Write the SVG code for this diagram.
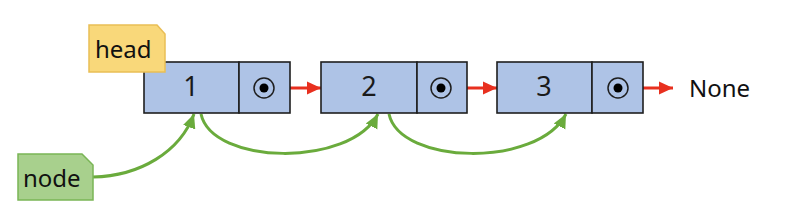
<svg xmlns="http://www.w3.org/2000/svg" width="792" height="217" viewBox="0 0 792 217">
<style>
.cell{fill:#aec3e6;stroke:#1e1e1e;stroke-width:1.6}
.ring{fill:none;stroke:#1e1e1e;stroke-width:1.5}
.dot{fill:#000}
.num{font-family:"Noto Sans",sans-serif;font-size:27px;fill:#1a1a1a;text-anchor:middle}
.lbl{font-family:"Noto Sans",sans-serif;font-size:24px;fill:#111}
.red{stroke:#e8301f;stroke-width:2.8;fill:none}
.green{stroke:#6aab3c;stroke-width:3;fill:none}
</style>
<defs>
<marker id="ar" markerUnits="userSpaceOnUse" markerWidth="16" markerHeight="16" viewBox="0 0 16 16" refX="14" refY="8" orient="auto">
<path d="M0,1.5 L14,8 L0,14.5 Z" fill="#e8301f"/>
</marker>
<marker id="ag" markerUnits="userSpaceOnUse" markerWidth="16" markerHeight="16" viewBox="0 0 16 16" refX="14" refY="8" orient="auto">
<path d="M0,1.5 L14,8 L0,14.5 Z" fill="#6aab3c"/>
</marker>
</defs>
<g id="connectors">
<line class="red" x1="264" y1="88" x2="321" y2="88" marker-end="url(#ar)"/>
<line class="red" x1="441" y1="88" x2="497" y2="88" marker-end="url(#ar)"/>
<line class="red" x1="618" y1="88" x2="673" y2="88" marker-end="url(#ar)"/>
<path class="green" d="M93,177 C140,176 180,152 194,114" marker-end="url(#ag)"/>
<path class="green" d="M201,114 C212,165 350,168 378,114" marker-end="url(#ag)"/>
<path class="green" d="M389,114 C400,165 538,168 566,114" marker-end="url(#ag)"/>
</g>
<g id="node1">
<rect class="cell" x="144" y="62" width="95" height="51"/>
<rect class="cell" x="239" y="62" width="51" height="51"/>
<text class="num" x="191" y="96">1</text>
<circle class="ring" cx="264" cy="88" r="10"/>
<circle class="dot" cx="264" cy="88" r="4.5"/>
</g>
<g id="node2">
<rect class="cell" x="321" y="62" width="96" height="51"/>
<rect class="cell" x="417" y="62" width="50" height="51"/>
<text class="num" x="369" y="96">2</text>
<circle class="ring" cx="441" cy="88" r="10"/>
<circle class="dot" cx="441" cy="88" r="4.5"/>
</g>
<g id="node3">
<rect class="cell" x="497" y="62" width="95" height="51"/>
<rect class="cell" x="592" y="62" width="51" height="51"/>
<text class="num" x="544" y="96">3</text>
<circle class="ring" cx="618" cy="88" r="10"/>
<circle class="dot" cx="618" cy="88" r="4.5"/>
</g>
<g id="none">
<text class="lbl" x="689" y="97">None</text>
</g>
<g id="head">
<path d="M89,25 L157,25 L165,34 L165,72 L89,72 Z" fill="#f9d87a" stroke="#e9be55" stroke-width="1.5"/>
<text class="lbl" x="95" y="58">head</text>
</g>
<g id="node">
<path d="M18,154 L82,154 L93,165 L93,200 L18,200 Z" fill="#a8d08d" stroke="#7ab556" stroke-width="1.5"/>
<text class="lbl" x="23" y="187">node</text>
</g>
</svg>
